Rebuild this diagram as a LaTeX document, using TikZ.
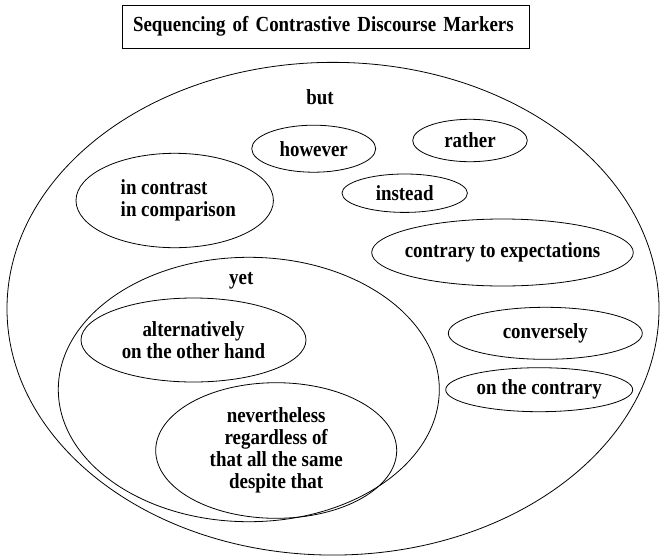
\documentclass[tikz,border=0pt]{standalone}
\usepackage{fontspec}
\setmainfont{Liberation Serif}[FakeStretch=0.88]
\usepackage{tikz}
\usetikzlibrary{shapes,positioning}

\begin{document}
\begin{tikzpicture}[x=1pt,y=-1pt,
  every node/.style={font=\fontsize{21.5}{22}\selectfont\bfseries},
  group/.style={ellipse,draw,line width=0.8pt,inner sep=0pt},
  marker/.style={ellipse,draw,line width=0.8pt,inner sep=0pt}]
\useasboundingbox (0,0) rectangle (660,557);

% Title box
\node[draw,line width=0.8pt,minimum height=43pt,text width=385pt,inner xsep=11pt,align=left]
  (title) at (325.5,26.4) {Sequencing of Contrastive Discourse Markers};

% Outer set: but
\node[group,minimum width=652pt,minimum height=492.7pt] (but) at (333,308.7) {};
\node (but-txt) at (320,97.5) {but};

% Inner set: yet
\node[group,minimum width=381pt,minimum height=264.4pt] (yet) at (248.8,389.5) {};
\node (yet-txt) at (241.3,281) {yet};

% One-line markers
\foreach \name/\pos/\w/\h/\txt in {
  however/{(313.7,148.7)}/124/47/however,
  rather/{(470,140.5)}/114.6/42.4/rather,
  instead/{(404.7,193.2)}/125.4/38.4/instead,
  contrary/{(502.5,252.5)}/261.6/67/{contrary to expectations},
  conversely/{(545.3,333.3)}/194/52/conversely,
  onthecontrary/{(539.2,389.7)}/187/44/{on the contrary}
} {
  \node[marker,minimum width=\w pt,minimum height=\h pt] (\name) at \pos {};
  \node (\name-txt) at (\name) {\txt};
}

% Two- and four-line markers
\node[marker,minimum width=197.4pt,minimum height=94.4pt] (incontrast) at (174.7,200.5) {};
\node[align=left] (incontrast-txt) at ([xshift=3.6pt]incontrast) {in contrast\\in comparison};
\node[marker,minimum width=225pt,minimum height=84pt] (alternatively) at (193.5,340) {};
\node[align=center] (alternatively-txt) at (alternatively) {alternatively\\on the other hand};
\node[marker,minimum width=241pt,minimum height=135.6pt] (nevertheless) at (276.2,450.5) {};
\node[align=center] (nevertheless-txt) at (nevertheless)
  {nevertheless\\regardless of\\that all the same\\despite that};
\end{tikzpicture}
\end{document}
